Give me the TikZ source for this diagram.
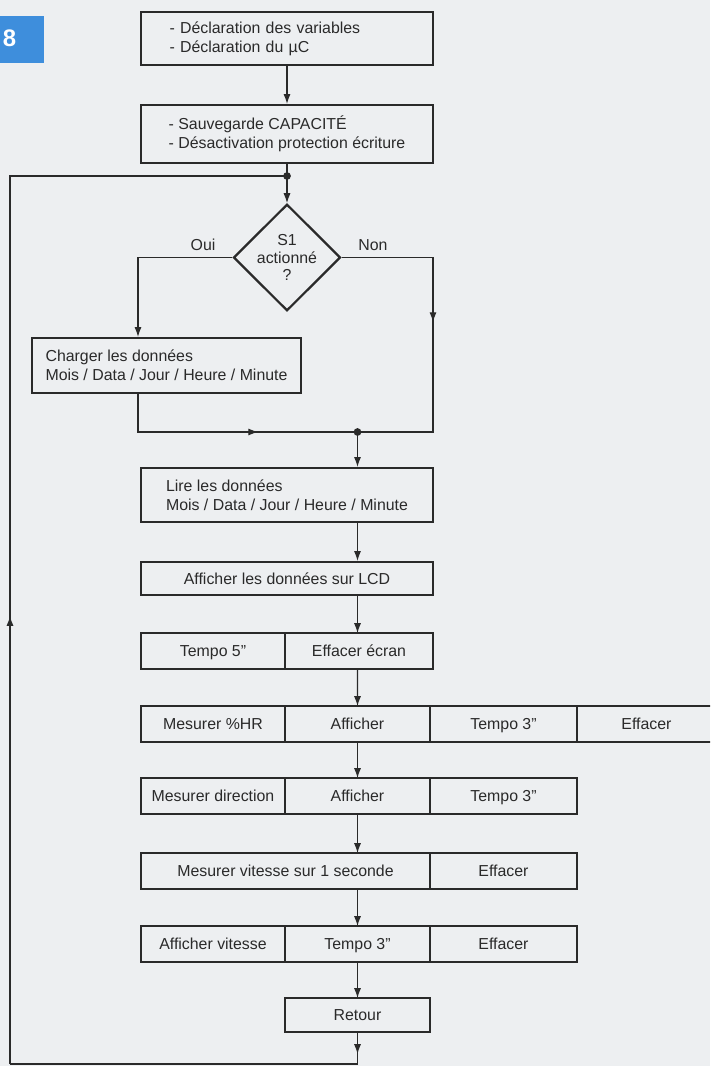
\documentclass[tikz,border=0pt]{standalone}
\usepackage{fontspec}
\setmainfont{Liberation Sans}
\usetikzlibrary{arrows.meta,positioning,calc,shapes.geometric,decorations.markings}
\definecolor{paper}{HTML}{EDEFF1}
\definecolor{ink}{HTML}{2A2A2A}
\definecolor{badgeblue}{HTML}{3E8EDC}
\tikzset{
  txt/.style={font=\fontsize{11.3}{13.6}\selectfont, text=ink},
  prog/.style={txt, draw=ink, line width=1.6pt, minimum width=7.3cm,
    minimum height=1.4cm, inner xsep=0.33cm, align=left},
  cell/.style={txt, draw=ink, line width=1.6pt, minimum height=0.9cm,
    text height=8pt, text depth=0.5pt, inner sep=0pt, outer sep=0pt, anchor=west},
  cond/.style={txt, draw=ink, line width=1.6pt, shape=diamond, inner sep=0pt,
    minimum width=2.675cm, minimum height=2.625cm, align=center,
    font=\fontsize{11.3}{12.6}\selectfont},
  link/.style={color=ink, line width=0.75pt},
  flow/.style={link, -{Latex[length=7pt,width=5pt]}},
  tipat/.style={postaction={decorate}, decoration={markings,
    mark=at position #1 with {\arrow{Latex[length=7pt,width=5pt]}}}},
  junc/.style={circle, fill=ink, inner sep=0pt, minimum size=5.5pt},
}

\begin{document}
\begin{tikzpicture}[x=1cm,y=1cm]
  \clip (0,0) rectangle (17.75,-26.65);
  \fill[paper] (0,0) rectangle (17.75,-26.65);
  \def\xa{3.525}  % left edge of the cell rows
  \def\xb{7.125}
  \def\xc{10.75}
  \def\xd{14.425}
  % figure number
  \fill[badgeblue] (0,-0.4) rectangle (1.1,-1.575);
  \node[font=\bfseries\fontsize{17}{17}\selectfont, text=white] (num) at (0.24,-0.95) {8};
  % start
  \node[prog, minimum height=1.325cm, text width=5.875cm, inner xsep=0.7cm] (decl) at (7.175,-0.9625)
    {- Déclaration des variables\\- Déclaration du µC};
  \node[prog, minimum height=1.45cm] (sauv) at (7.175,-3.35)
    {- Sauvegarde CAPACITÉ\\- Désactivation protection écriture};
  \coordinate (j1) at (7.175,-4.4);
  \node[cond] (cond) at (7.175,-6.4375) {S1\\actionné\\?};
  \node[txt] (oui) at (5.075,-6.125) {Oui};
  \node[txt] (non) at (9.325,-6.125) {Non};
  \node[prog, minimum width=6.725cm, minimum height=1.375cm] (charger) at (4.1625,-9.1375)
    {Charger les données\\Mois / Data / Jour / Heure / Minute};
  \coordinate (ol) at (3.45,-6.4375);
  \coordinate (nr) at (10.825,-10.8);
  \coordinate (j2) at (8.9375,-10.8);
  \node[prog, minimum height=1.35cm] (lire) at (7.175,-12.375)
    {Lire les données\\Mois / Data / Jour / Heure / Minute};
  \node[prog, minimum height=0.825cm] (lcd) at (7.175,-14.4625) {Afficher les données sur LCD};
  % cell rows
  \node[cell, minimum width=3.6cm] (t5) at (\xa,-16.275) {Tempo 5''};
  \node[cell, minimum width=3.7cm] (eff) at (\xb,-16.275) {Effacer écran};
  \node[cell, minimum width=3.6cm] (hr) at (\xa,-18.1) {Mesurer \%HR};
  \node[cell, minimum width=3.625cm] (aff1) at (\xb,-18.1) {Afficher};
  \node[cell, minimum width=3.675cm] (tmp3a) at (\xc,-18.1) {Tempo 3''};
  \node[cell, minimum width=3.475cm] (eff1) at (\xd,-18.1) {Effacer};
  \node[cell, minimum width=3.6cm] (dir) at (\xa,-19.9) {Mesurer direction};
  \node[cell, minimum width=3.625cm] (aff2) at (\xb,-19.9) {Afficher};
  \node[cell, minimum width=3.675cm] (tmp3b) at (\xc,-19.9) {Tempo 3''};
  \node[cell, minimum width=7.225cm] (vit) at (\xa,-21.775) {Mesurer vitesse sur 1 seconde};
  \node[cell, minimum width=3.675cm] (eff2) at (\xc,-21.775) {Effacer};
  \node[cell, minimum width=3.6cm] (affv) at (\xa,-23.6) {Afficher vitesse};
  \node[cell, minimum width=3.625cm] (tmp3c) at (\xb,-23.6) {Tempo 3''};
  \node[cell, minimum width=3.675cm] (eff3) at (\xc,-23.6) {Effacer};
  \node[cell, minimum width=3.625cm, minimum height=0.85cm] (ret) at (\xb,-25.375) {Retour};
  \coordinate (base) at (0.25,-26.6);
  \coordinate (top) at (0.25,-4.4);
  % connectors
  \draw[flow] (decl) -- (sauv);
  \draw[link] (sauv) -- (j1);
  \draw[flow] (j1) -- (cond);
  \draw[flow] (cond.west) -- (ol) -- (ol |- charger.north);
  \draw[link, tipat=3.95cm] (ol |- charger.south) -- (ol |- j2) -- (j2);
  \draw[link, tipat=3.9cm] (cond.east) -- (cond.east -| nr) -- (nr) -- (j2);
  \draw[flow] (j2) -- (j2 |- lire.north);
  \draw[flow] (j2 |- lire.south) -- (j2 |- lcd.north);
  \draw[flow] (j2 |- lcd.south) -- (j2 |- eff.north);
  \draw[flow] (j2 |- eff.south) -- (aff1.north);
  \draw[flow] (aff1) -- (aff2);
  \draw[flow] (aff2) -- (aff2 |- vit.north);
  \draw[flow] (aff2 |- vit.south) -- (tmp3c.north);
  \draw[flow] (tmp3c) -- (ret);
  % loop back
  \draw[link, tipat=0.55cm] (ret.south) -- (ret.south |- base);
  \draw[link] (ret.south |- base) -- (base);
  \draw[link, tipat=11.2cm] (base) -- (top) -- (j1);
  \node[junc] (d1) at (j1) {};
  \node[junc] (d2) at (j2) {};
\end{tikzpicture}
\end{document}
